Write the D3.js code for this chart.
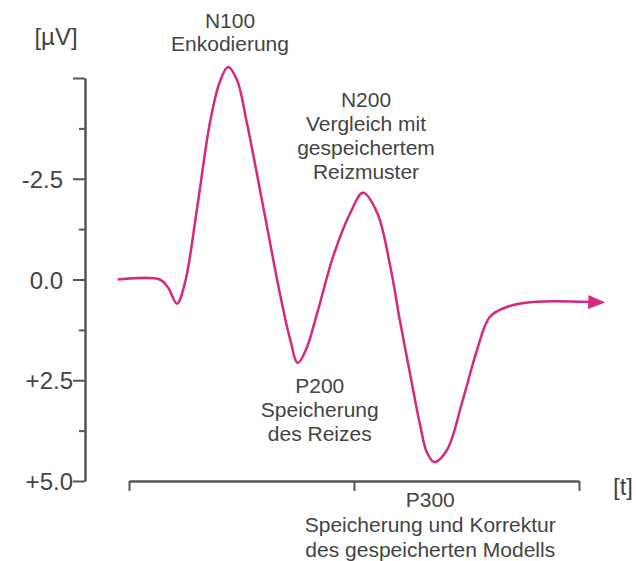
<!DOCTYPE html>
<html><head><meta charset="utf-8">
<script src="https://cdn.jsdelivr.net/npm/d3@7"></script>
<style>
body{margin:0;background:#fff}
svg{display:block;background:#fff}
text{font-family:"Liberation Sans",Arial,Helvetica,sans-serif;fill:#444}
</style>
</head><body><svg id="c" width="636" height="561"></svg>
<script>
// ---- data ----
const time = [-15, 41, 52, 64, 75, 91, 108, 121, 132, 144, 157, 179, 201, 215, 225, 236, 251, 272, 295, 312, 331, 348, 361, 375, 388, 397, 407, 424, 445, 464, 481, 504, 539, 615];
const amplitude = [0.0, 0.0, 0.2, 0.6, 0.05, -1.8, -3.9, -4.9, -5.27, -4.95, -3.9, -1.8, 0.33, 1.5, 2.07, 1.74, 0.83, -0.56, -1.65, -2.15, -1.65, -0.36, 1.0, 2.37, 3.6, 4.28, 4.53, 4.23, 2.99, 1.75, 0.93, 0.68, 0.56, 0.56];
const yMajorTicks = [-5, -2.5, 0, 2.5, 5];
const yTickLabels = ["", "-2.5", "0.0", "+2.5", "+5.0"];
const yMinorTicks = [-3.75, -1.25, 1.25, 3.75];
const xTicks = [0, 300, 600];
const yUnit = "[µV]";
const xUnit = "[t]";
const componentTime = [132, 312, 225, 407];
const componentLines = [
  ["N100", "Enkodierung"],
  ["N200", "Vergleich mit", "gespeichertem", "Reizmuster"],
  ["P200", "Speicherung", "des Reizes"],
  ["P300", "Speicherung und Korrektur", "des gespeicherten Modells"]
];

// ---- layout ----
const svg = d3.select("#c");
const x = d3.scaleLinear().domain([0, 600]).range([129, 579]);
const y = d3.scaleLinear().domain([-5, 5]).range([78, 481]);
const axisColor = "#555";
const curveColor = "#d6287f";
const fs = 21;      // annotation text
const afs = 24;     // axis text

// y axis (major)
const ya = svg.append("g").attr("transform", "translate(85,0)")
  .call(d3.axisLeft(y).tickValues(yMajorTicks).tickSize(12).tickSizeOuter(0)
    .tickFormat((d, i) => yTickLabels[i]));
ya.select(".domain").attr("stroke", axisColor).attr("stroke-width", 2.5);
ya.selectAll(".tick line").attr("stroke", axisColor).attr("stroke-width", 2);
ya.selectAll(".tick text")
  .attr("x", (d, i) => yTickLabels[i].startsWith("+") ? -12 : -22)
  .attr("dy", null).attr("text-anchor", "end")
  .attr("dominant-baseline", "central")
  .attr("font-size", afs).attr("font-family", null).style("fill", "#444");
// y axis (minor)
const ym = svg.append("g").attr("transform", "translate(85,0)")
  .call(d3.axisLeft(y).tickValues(yMinorTicks).tickSize(6).tickFormat(""));
ym.select(".domain").remove();
ym.selectAll(".tick line").attr("stroke", axisColor).attr("stroke-width", 2);

// x axis
const xa = svg.append("g").attr("transform", "translate(0," + y(5) + ")")
  .call(d3.axisBottom(x).tickValues(xTicks).tickSize(10).tickSizeOuter(0).tickFormat(""));
xa.select(".domain").attr("stroke", axisColor).attr("stroke-width", 2.5);
xa.selectAll(".tick line").attr("stroke", axisColor).attr("stroke-width", 2);

// unit labels
svg.append("text").attr("x", 56).attr("y", 36).attr("text-anchor", "middle")
  .attr("dominant-baseline", "central").attr("font-size", afs).text(yUnit);
svg.append("text").attr("x", 623).attr("y", y(5) + 5).attr("text-anchor", "middle")
  .attr("dominant-baseline", "central").attr("font-size", afs).text(xUnit);

// arrow marker
svg.append("defs").append("marker").attr("id", "arr")
  .attr("markerUnits", "userSpaceOnUse").attr("markerWidth", 20).attr("markerHeight", 16)
  .attr("refX", 2).attr("refY", 8).attr("orient", "auto")
  .append("path").attr("d", "M0,1 L17,8 L0,15 Z").attr("fill", curveColor);

// ERP curve
const pts = time.map((t, i) => [t, amplitude[i]]);
svg.append("path").datum(pts)
  .attr("d", d3.line().x(d => x(d[0])).y(d => y(d[1])).curve(d3.curveCatmullRom.alpha(0.5)))
  .attr("fill", "none").attr("stroke", curveColor).attr("stroke-width", 2.5)
  .attr("marker-end", "url(#arr)");

// annotations
const annOffset = [[2, -47], [3, -93], [22, 23], [-4, 37]];
const lineGap = [23, 24, 24, 25];
componentLines.forEach((lines, k) => {
  const i = time.indexOf(componentTime[k]);
  const px = x(time[i]) + annOffset[k][0];
  const py = y(amplitude[i]) + annOffset[k][1];
  lines.forEach((s, j) => {
    svg.append("text").attr("x", px).attr("y", py + j * lineGap[k])
      .attr("text-anchor", "middle").attr("dominant-baseline", "central")
      .attr("font-size", fs).text(s);
  });
});
</script>
</body></html>
